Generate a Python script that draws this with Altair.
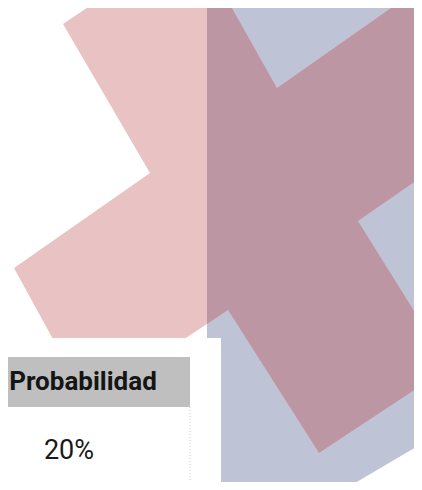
import altair as alt
import pandas as pd

# ---- data (picture pixel coordinates, y downwards) ----
# pink cross (rotated plus sign), vertices in order
cross_x = [63, 192, 277, 418, 501, 358, 449, 319, 228, 88, 14, 150]
cross_y = [24, -63, 88, -11, 122, 221, 367, 453, 310, 403, 268, 173]

# blue-grey backdrop shape
blue_x = [207, 440, 440, 355, 207]
blue_y = [-20, -20, 433, 483, 483]
blue_left = 207  # left edge of the blue shape (overlap starts here)

# white panel holding the table
panel_x = [0, 221]
panel_y = [338, 500]

# table
header_label = "Probabilidad"
cell_label = "20%"
table_x = [-10, 190]
header_y = [357, 407]
cell_y = [407, 487]
header_text_pos = (83, 382)
cell_text_pos = (69, 451)

PINK = "#e9c3c4"
BLUE = "#bec3d5"
MAUVE = "#bd96a4"
HEADER = "#bfbfbf"
FONT = "Roboto"


def clip_right_of(xs, ys, x0):
    pts = list(zip(xs, ys))
    out = []
    for i in range(len(pts)):
        cx, cy = pts[i]
        px, py = pts[i - 1]
        cin, pin = cx >= x0, px >= x0
        if cin:
            if not pin:
                t = (x0 - px) / (cx - px)
                out.append((x0, py + t * (cy - py)))
            out.append((cx, cy))
        elif pin:
            t = (x0 - px) / (cx - px)
            out.append((x0, py + t * (cy - py)))
    return out


def poly_df(xs, ys):
    xs = list(xs) + [xs[0]]
    ys = list(ys) + [ys[0]]
    return pd.DataFrame({"x": xs, "y": ys, "i": range(len(xs))})


over = clip_right_of(cross_x, cross_y, blue_left)

xs = alt.Scale(domain=[8, 414], nice=False, zero=False)
ys = alt.Scale(domain=[8, 482], nice=False, zero=False, reverse=True)
X = lambda f: alt.X(f, type="quantitative", scale=xs, axis=None)
Y = lambda f: alt.Y(f, type="quantitative", scale=ys, axis=None)


def polygon(df, color):
    return alt.Chart(df).mark_line(
        fill=color, filled=True, strokeOpacity=0, clip=True
    ).encode(x=X("x"), y=Y("y"), order=alt.Order("i:Q"))


blue = polygon(poly_df(blue_x, blue_y), BLUE)
pink = polygon(poly_df(cross_x, cross_y), PINK)
mauve = polygon(poly_df([p[0] for p in over], [p[1] for p in over]), MAUVE)

panel = alt.Chart(pd.DataFrame({"x": [panel_x[0]], "x2": [panel_x[1]],
                                "y": [panel_y[0]], "y2": [panel_y[1]]})).mark_rect(
    color="white", clip=True).encode(x=X("x"), x2="x2", y=Y("y"), y2="y2")

header = alt.Chart(pd.DataFrame({"x": [table_x[0]], "x2": [table_x[1]],
                                 "y": [header_y[0]], "y2": [header_y[1]]})).mark_rect(
    color=HEADER, clip=True).encode(x=X("x"), x2="x2", y=Y("y"), y2="y2")

vborder = alt.Chart(pd.DataFrame({"x": [table_x[1]], "y": [cell_y[0]], "y2": [cell_y[1] + 10]})).mark_rule(
    color="#cfcfcf", strokeDash=[1, 2], strokeWidth=1, clip=True).encode(x=X("x"), y=Y("y"), y2="y2")
hborder = alt.Chart(pd.DataFrame({"x": [table_x[0]], "x2": [table_x[1]], "y": [cell_y[1]]})).mark_rule(
    color="#d5d5d5", strokeDash=[1, 2], strokeWidth=1, clip=True).encode(x=X("x"), x2="x2", y=Y("y"))

htext = alt.Chart(pd.DataFrame({"x": [header_text_pos[0]], "y": [header_text_pos[1]], "t": [header_label]})).mark_text(
    font=FONT, fontSize=26, fontWeight="bold", color="#151515", align="center", baseline="middle"
).encode(x=X("x"), y=Y("y"), text="t:N")

ctext = alt.Chart(pd.DataFrame({"x": [cell_text_pos[0]], "y": [cell_text_pos[1]], "t": [cell_label]})).mark_text(
    font=FONT, fontSize=27, color="#1a1a1a", align="center", baseline="middle"
).encode(x=X("x"), y=Y("y"), text="t:N")

chart = alt.layer(blue, pink, mauve, panel, header, vborder, hborder, htext, ctext).properties(
    width=406, height=474, padding=0, autosize=alt.AutoSizeParams(type="none")
).configure_view(stroke=None)

chart.save("out.html", embed_options={"renderer": "svg", "actions": False})
